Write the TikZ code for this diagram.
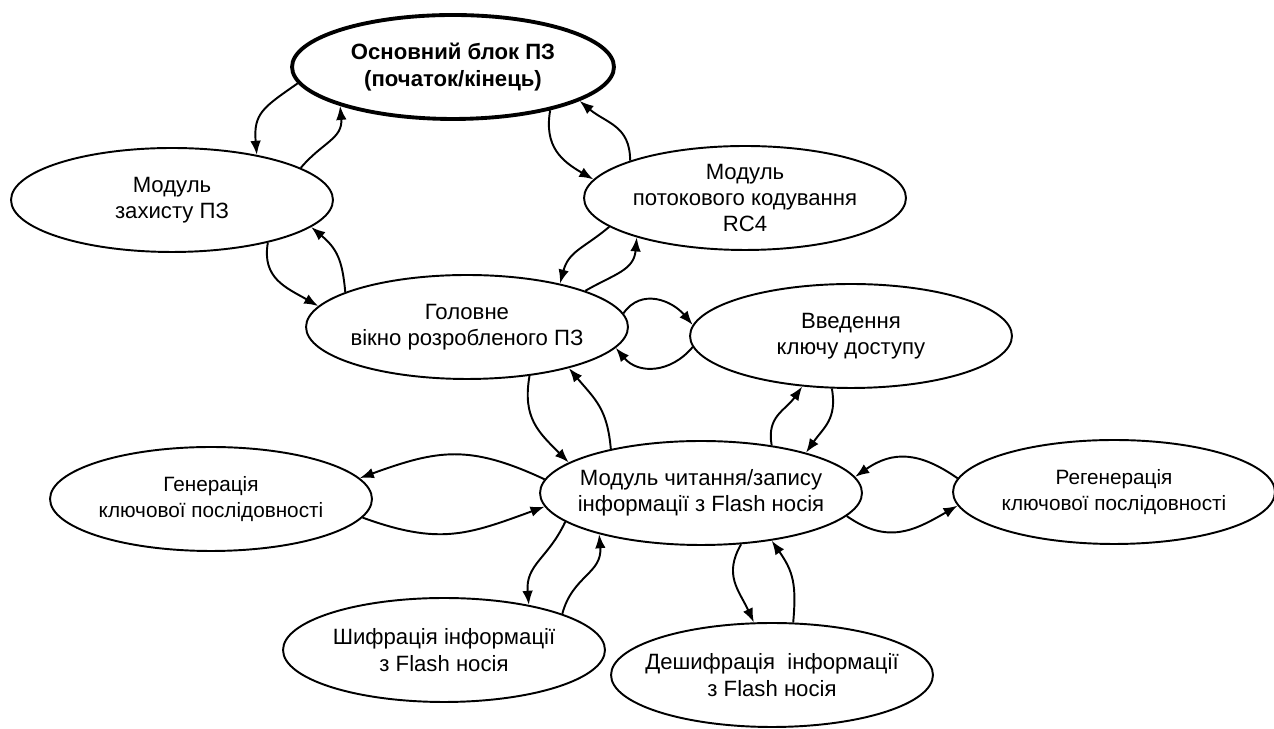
\documentclass[tikz,border=0pt]{standalone}
\usepackage{fontspec}
\setmainfont{Liberation Sans}
\usetikzlibrary{shapes.geometric,arrows.meta}
\begin{document}
\begin{tikzpicture}[x=0.02cm,y=0.02cm,
  ell/.style={ellipse, draw, line width=1.1pt, minimum width=6.44cm, minimum height=2.08cm, inner sep=0pt, fill=white},
  lab/.style={align=center, font=\fontsize{12.6}{15}\selectfont},
  labs/.style={align=center, font=\fontsize{11.8}{15}\selectfont},
  conn/.style={line width=1.1pt, looseness=1.15, -{Latex[length=8pt,width=6pt]}}]
\useasboundingbox[fill=white] (0,0) rectangle (1274,729);
% nodes
\node[ell, line width=2.2pt, label={[lab, font=\bfseries\fontsize{12.6}{15}\selectfont]center:{Основний блок ПЗ\\(початок/кінець)}}] (O) at (453,662) {};
\node[ell, label={[lab]center:{Модуль\\захисту ПЗ}}] (Z) at (172,529) {};
\node[ell, label={[lab]center:{Модуль\\потокового кодування\\RC4}}] (R) at (745,531) {};
\node[ell, label={[lab]center:{Головне\\вікно розробленого ПЗ}}] (G) at (467,402) {};
\node[ell, label={[lab]center:{Введення\\ключу доступу}}] (V) at (851,393) {};
\node[ell, label={[lab]center:{Модуль читання/запису\\інформації з Flash носія}}] (M) at (701,236) {};
\node[ell, label={[labs]center:{Генерація\\ключової послідовності}}] (Gen) at (211,230) {};
\node[ell, label={[labs]center:{Регенерація\\ключової послідовності}}] (Reg) at (1114,237) {};
\node[ell, label={[lab]center:{Шифрація інформації\\з Flash носія}}] (S) at (444,79) {};
\node[ell, label={[lab]center:{Дешифрація~~інформації\\з Flash носія}}] (D) at (772,54) {};
% connectors
\draw[conn] (O.186) to[out=215,in=95,looseness=1.3] (Z.28);
\draw[conn] (Z.14) to[out=50,in=-85] (O.199);
\draw[conn] (O.-24) to[out=-100,in=150] (R.173);
\draw[conn] (R.162) to[out=90,in=-40] (O.-15);
\draw[conn] (Z.-24) to[out=-100,in=150] (G.172);
\draw[conn] (G.164) to[out=95,in=-40] (Z.-11);
\draw[conn] (R.192) to[out=-140,in=75] (G.25);
\draw[conn] (G.17) to[out=30,in=-95] (R.200);
\draw[conn] (G.5) to[out=55,in=130] (V.176);
\draw[conn] (V.184) to[out=-130,in=-50] (G.-8);
\draw[conn] (G.-38) to[out=-100,in=135] (M.167);
\draw[conn] (M.154) to[out=95,in=-50] (G.-22);
\draw[conn] (M.34) to[out=100,in=-125] (V.226);
\draw[conn] (V.250) to[out=-80,in=55] (M.21);
\draw[conn] (M.175) to[out=155,in=20] (Gen.8);
\draw[conn] (Gen.-7) to[out=-20,in=-160] (M.185);
\draw[conn] (Reg.175) to[out=145,in=35] (M.6);
\draw[conn] (M.-9) to[out=-35,in=-150] (Reg.185);
\draw[conn] (M.192) to[out=-115,in=95] (S.28);
\draw[conn] (S.17) to[out=75,in=-85] (M.202);
\draw[conn] (M.-52) to[out=-120,in=115] (D.109);
\draw[conn] (D.68) to[out=85,in=-55] (M.-34);
\end{tikzpicture}
\end{document}
